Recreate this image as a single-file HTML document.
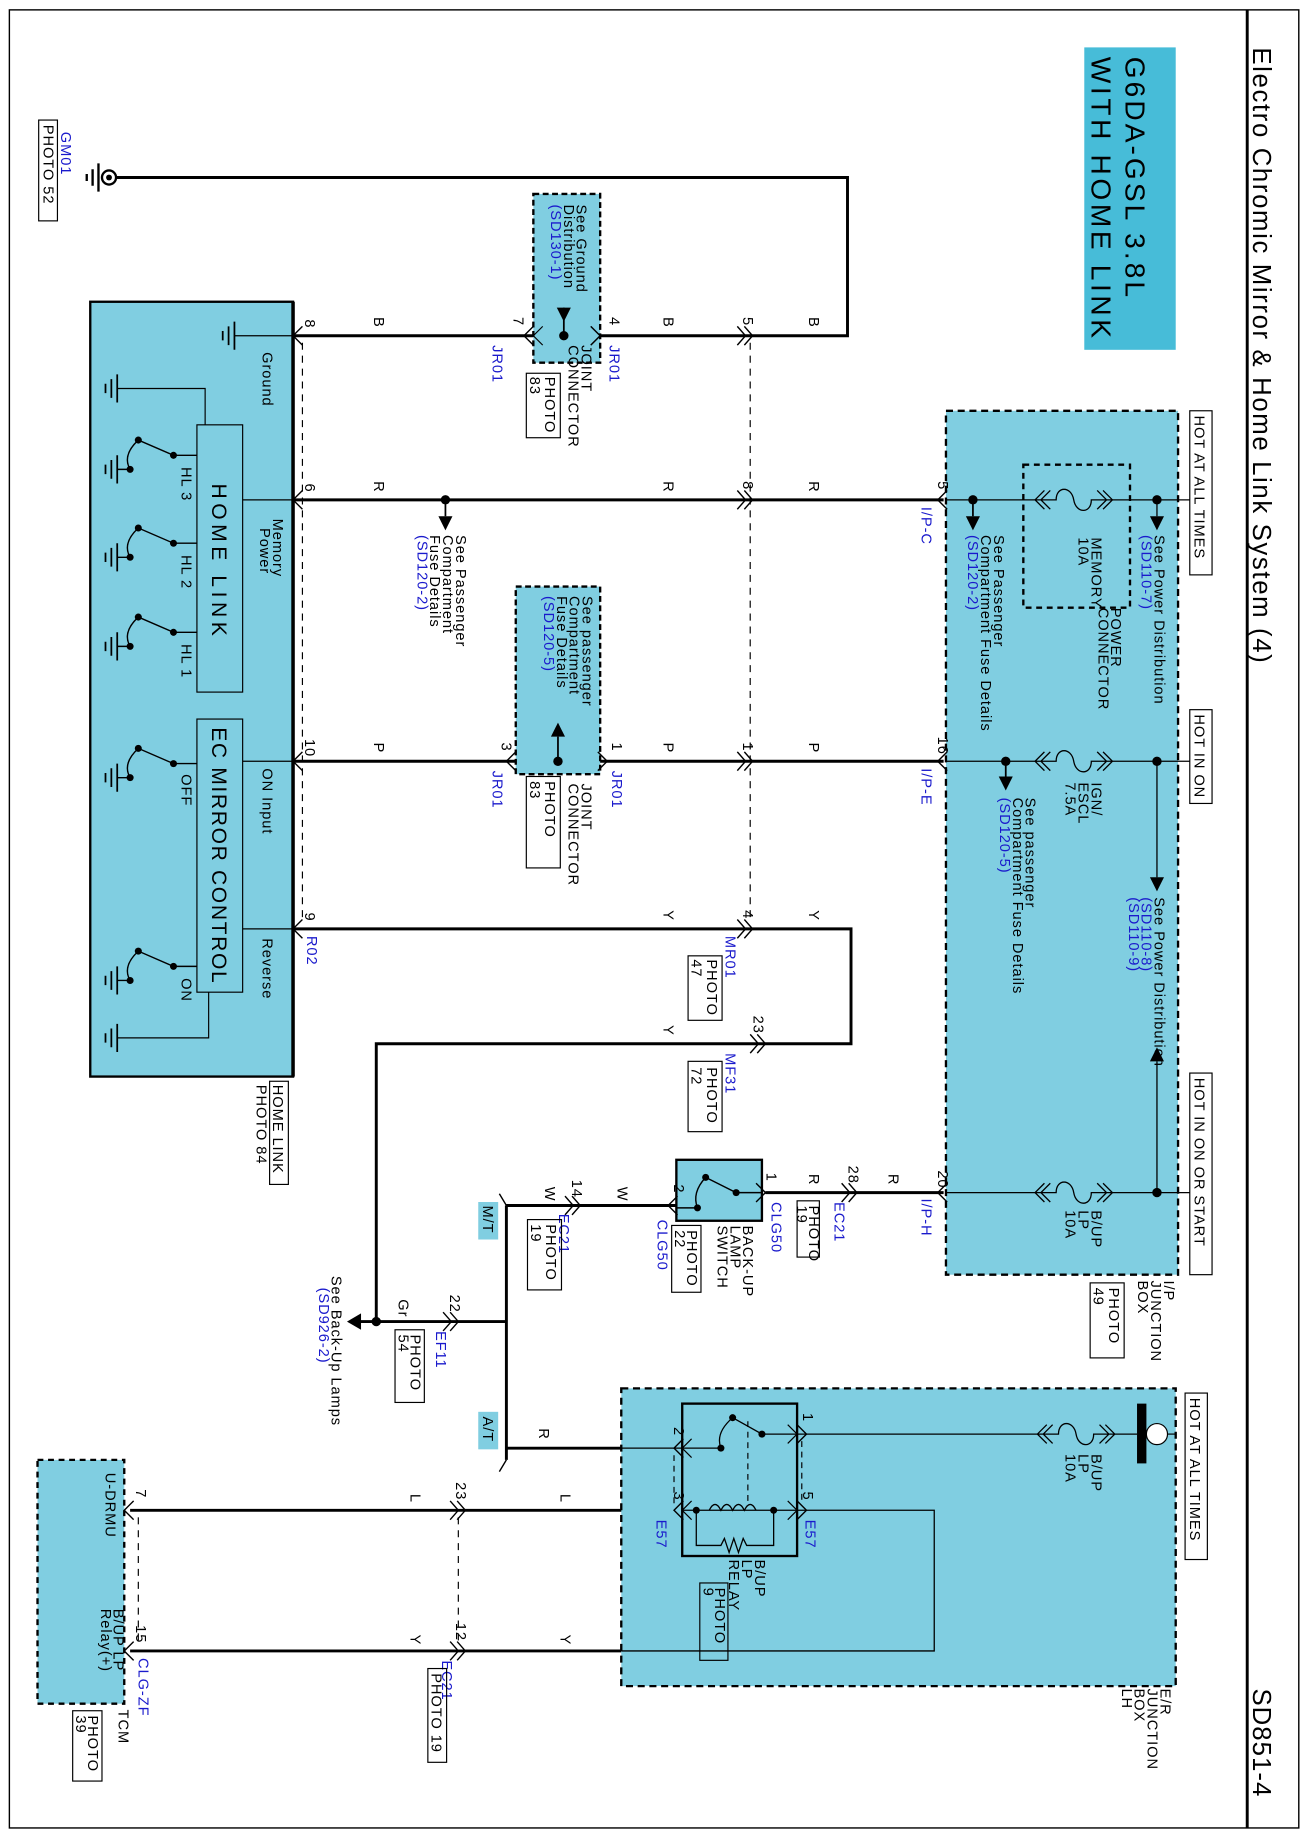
<!DOCTYPE html>
<html><head><meta charset="utf-8"><style>
html,body{margin:0;padding:0;background:#fff}
svg{display:block}
text{font-family:"Liberation Sans",sans-serif;fill:#000}
text[font-size="11"]{font-size:12.5px;letter-spacing:0.8px}
.b{fill:#1a1acc}
</style></head><body>
<svg width="1307" height="1839" viewBox="0 0 1115 1568" xmlns="http://www.w3.org/2000/svg">
<defs>
<path id="pin" d="M8,-8 L0,0 L8,8" fill="none" stroke="#000" stroke-width="1.2"/>
<path id="pinR" d="M-8,-8 L0,0 L-8,8" fill="none" stroke="#000" stroke-width="1.2"/>
<path id="con" d="M-7,-8 L0,0 L-7,8 M-1,-8 L6,0 L-1,8" fill="none" stroke="#000" stroke-width="1.2"/>
<path id="fuse" d="M-33,0 L-15,0 C-15,-12 -2,-12 0,0 C2,12 15,12 15,0 L33,0 M-25,-8 L-33,0 L-25,8 M-20,-8 L-28,0 L-20,8 M25,-8 L33,0 L25,8 M20,-8 L28,0 L20,8" fill="none" stroke="#000" stroke-width="1.1"/>
<path id="gnd" d="M0,-12 L0,12 M-5,-8 L-5,8 M-10,-4 L-10,4" fill="none" stroke="#000" stroke-width="1.5"/>
</defs>
<rect x="0" y="0" width="1115" height="1568" fill="#fff"/>
<rect x="8" y="8" width="1100" height="1551" fill="none" stroke="#000" stroke-width="1.2"/>
<line x1="1064" y1="8" x2="1064" y2="1559" stroke="#000" stroke-width="2.5"/>
<text font-size="22" transform="translate(1069,40) rotate(90)" textLength="525">Electro Chromic Mirror &amp; Home Link System (4)</text>
<text font-size="22" transform="translate(1069,1440) rotate(90)" textLength="92">SD851-4</text>

<rect x="925" y="40" width="78" height="258" fill="#47bcd8"/>
<text font-size="24" transform="translate(960,48) rotate(90)" textLength="205">G6DA-GSL 3.8L</text>
<text font-size="24" transform="translate(931,48) rotate(90)" textLength="240">WITH HOME LINK</text>

<circle cx="93" cy="151" r="6" fill="none" stroke="#000" stroke-width="2"/>
<circle cx="93" cy="151" r="2.5" fill="#000"/>
<path d="M84,139 L84,163 M79,144 L79,158 M74,148 L74,154" stroke="#000" stroke-width="2"/>
<polyline points="99,151 723,151 723,286 636,286" fill="none" stroke="#000" stroke-width="2.5"/>
<text class="b" font-size="11" transform="translate(52,112) rotate(90)">GM01</text>
<rect x="33" y="102" width="16" height="86" fill="none" stroke="#000"/>
<text font-size="11" transform="translate(37,106) rotate(90)">PHOTO 52</text>

<rect x="77" y="257" width="173" height="661" fill="#80cee1" stroke="#000" stroke-width="2"/>
<line x1="250" y1="257" x2="250" y2="918" stroke="#000" stroke-width="3"/>
<rect x="168" y="362" width="39" height="228" fill="#80cee1" stroke="#000" stroke-width="1"/>
<text font-size="18" transform="translate(181,412) rotate(90)" textLength="130">HOME  LINK</text>
<rect x="168" y="613" width="39" height="233" fill="#80cee1" stroke="#000" stroke-width="1"/>
<text font-size="18" transform="translate(181,620) rotate(90)" textLength="218">EC  MIRROR  CONTROL</text>
<line x1="200" y1="286" x2="250" y2="286" stroke="#000"/>
<use href="#gnd" x="200" y="286"/>
<text font-size="11" transform="translate(224,300) rotate(90)">Ground</text>
<line x1="207" y1="426" x2="250" y2="426" stroke="#000"/>
<text font-size="11" transform="translate(233,442) rotate(90)">Memory</text>
<text font-size="11" transform="translate(222,450) rotate(90)">Power</text>
<line x1="207" y1="649" x2="250" y2="649" stroke="#000"/>
<text font-size="11" transform="translate(224,655) rotate(90)">ON Input</text>
<line x1="207" y1="792" x2="250" y2="792" stroke="#000"/>
<text font-size="11" transform="translate(224,800) rotate(90)">Reverse</text>
<polyline points="100,331 175,331 175,362" fill="none" stroke="#000"/>
<use href="#gnd" x="100" y="331"/>
<polyline points="100,885 178,885 178,846" fill="none" stroke="#000"/>
<use href="#gnd" x="100" y="885"/>
<g stroke="#000" fill="none" stroke-width="1.2">
<path d="M168,388 L148,388 L118,375 M111,400 L100,400 M118,375 Q104,388 111,400" />
<path d="M168,463 L148,463 L118,450 M111,475 L100,475 M118,450 Q104,463 111,475"/>
<path d="M168,539 L148,539 L118,526 M111,551 L100,551 M118,526 Q104,539 111,551"/>
<path d="M168,651 L148,651 L118,638 M111,663 L100,663 M118,638 Q104,651 111,663"/>
<path d="M168,824 L148,824 L118,811 M111,836 L100,836 M118,811 Q104,824 111,836"/>
</g>
<g fill="#000">
<circle cx="148" cy="388" r="3"/><circle cx="118" cy="375" r="3"/><circle cx="111" cy="400" r="3"/>
<circle cx="148" cy="463" r="3"/><circle cx="118" cy="450" r="3"/><circle cx="111" cy="475" r="3"/>
<circle cx="148" cy="539" r="3"/><circle cx="118" cy="526" r="3"/><circle cx="111" cy="551" r="3"/>
<circle cx="148" cy="651" r="3"/><circle cx="118" cy="638" r="3"/><circle cx="111" cy="663" r="3"/>
<circle cx="148" cy="824" r="3"/><circle cx="118" cy="811" r="3"/><circle cx="111" cy="836" r="3"/>
</g>
<use href="#gnd" x="100" y="400"/><use href="#gnd" x="100" y="475"/><use href="#gnd" x="100" y="551"/>
<use href="#gnd" x="100" y="663"/><use href="#gnd" x="100" y="836"/>
<text font-size="11" transform="translate(155,398) rotate(90)">HL 3</text>
<text font-size="11" transform="translate(155,473) rotate(90)">HL 2</text>
<text font-size="11" transform="translate(155,549) rotate(90)">HL 1</text>
<text font-size="11" transform="translate(155,660) rotate(90)">OFF</text>
<text font-size="11" transform="translate(155,834) rotate(90)">ON</text>
<rect x="230" y="922" width="16" height="88" fill="none" stroke="#000"/>
<text font-size="11" transform="translate(233,925) rotate(90)">HOME LINK</text>
<text font-size="11" transform="translate(219,925) rotate(90)">PHOTO 84</text>

<g stroke="#000" stroke-width="2.5" fill="none">
<line x1="250" y1="286" x2="636" y2="286"/>
<line x1="250" y1="426" x2="805" y2="426"/>
<line x1="250" y1="649" x2="805" y2="649"/>
<polyline points="250,792 726,792 726,890 321,890 321,1127"/>
<line x1="321" y1="1127" x2="432" y2="1127"/>
<line x1="432" y1="1028" x2="432" y2="1245"/>
<line x1="432" y1="1028" x2="577" y2="1028"/>
<line x1="653" y1="1017" x2="805" y2="1017"/>
<line x1="432" y1="1235" x2="530" y2="1235"/>
<line x1="111" y1="1288" x2="582" y2="1288"/>
<line x1="111" y1="1408" x2="530" y2="1408"/>
</g>
<path d="M432,1028 L426,1018 M432,1245 L426,1255" stroke="#000" stroke-width="1.2"/>
<g stroke="#000" stroke-dasharray="6,5" stroke-width="1">
<line x1="258" y1="292" x2="258" y2="786"/>
<line x1="640" y1="292" x2="640" y2="786"/>
<line x1="118" y1="1294" x2="118" y2="1402"/>
<line x1="391" y1="1294" x2="391" y2="1402"/>
</g>
<use href="#pin" x="250" y="286"/><use href="#pin" x="250" y="426"/>
<use href="#pin" x="250" y="649"/><use href="#pin" x="250" y="792"/>
<text font-size="11" transform="translate(260,272) rotate(90)">8</text>
<text font-size="11" transform="translate(260,412) rotate(90)">6</text>
<text font-size="11" transform="translate(260,630) rotate(90)">10</text>
<text font-size="11" transform="translate(260,778) rotate(90)">9</text>
<text class="b" font-size="11" transform="translate(262,798) rotate(90)">R02</text>
<use href="#con" x="636" y="286"/><use href="#con" x="636" y="426"/>
<use href="#con" x="636" y="649"/><use href="#con" x="636" y="792"/>
<use href="#con" x="647" y="890"/>
<text font-size="11" transform="translate(634,270) rotate(90)">5</text>
<text font-size="11" transform="translate(634,410) rotate(90)">8</text>
<text font-size="11" transform="translate(634,633) rotate(90)">1</text>
<text font-size="11" transform="translate(634,776) rotate(90)">4</text>
<text font-size="11" transform="translate(643,866) rotate(90)">23</text>
<g font-size="11">
<text font-size="11" transform="translate(319,270) rotate(90)">B</text>
<text font-size="11" transform="translate(566,270) rotate(90)">B</text>
<text font-size="11" transform="translate(690,270) rotate(90)">B</text>
<text font-size="11" transform="translate(319,410) rotate(90)">R</text>
<text font-size="11" transform="translate(566,410) rotate(90)">R</text>
<text font-size="11" transform="translate(690,410) rotate(90)">R</text>
<text font-size="11" transform="translate(319,633) rotate(90)">P</text>
<text font-size="11" transform="translate(566,633) rotate(90)">P</text>
<text font-size="11" transform="translate(690,633) rotate(90)">P</text>
<text font-size="11" transform="translate(566,776) rotate(90)">Y</text>
<text font-size="11" transform="translate(690,776) rotate(90)">Y</text>
<text font-size="11" transform="translate(566,874) rotate(90)">Y</text>
<text font-size="11" transform="translate(690,1001) rotate(90)">R</text>
<text font-size="11" transform="translate(758,1001) rotate(90)">R</text>
<text font-size="11" transform="translate(527,1012) rotate(90)">W</text>
<text font-size="11" transform="translate(465,1012) rotate(90)">W</text>
<text font-size="11" transform="translate(340,1108) rotate(90)">Gr</text>
<text font-size="11" transform="translate(460,1218) rotate(90)">R</text>
<text font-size="11" transform="translate(350,1274) rotate(90)">L</text>
<text font-size="11" transform="translate(478,1274) rotate(90)">L</text>
<text font-size="11" transform="translate(350,1394) rotate(90)">Y</text>
<text font-size="11" transform="translate(478,1394) rotate(90)">Y</text>
<text font-size="11" transform="translate(777,1213) rotate(90)">R</text>
</g>
<text class="b" font-size="11" transform="translate(619,798) rotate(90)">MR01</text>
<rect x="587" y="815" width="29" height="55" fill="none" stroke="#000"/>
<text font-size="11" transform="translate(603,818) rotate(90)">PHOTO</text>
<text font-size="11" transform="translate(590,818) rotate(90)">47</text>
<text class="b" font-size="11" transform="translate(619,898) rotate(90)">MF31</text>
<rect x="587" y="905" width="29" height="60" fill="none" stroke="#000"/>
<text font-size="11" transform="translate(603,910) rotate(90)">PHOTO</text>
<text font-size="11" transform="translate(590,910) rotate(90)">72</text>

<circle cx="380" cy="426" r="4" fill="#000"/>
<path d="M380,426 L380,440" stroke="#000" stroke-width="1.5"/>
<polygon points="374,440 386,440 380,452" fill="#000"/>
<text font-size="11" transform="translate(389,456) rotate(90)">See Passenger</text>
<text font-size="11" transform="translate(378,456) rotate(90)">Compartment</text>
<text font-size="11" transform="translate(367,456) rotate(90)">Fuse Details</text>
<text class="b" font-size="11" transform="translate(356,456) rotate(90)">(SD120-2)</text>

<rect x="455" y="165" width="57" height="144" fill="#80cee1" stroke="#000" stroke-width="2" stroke-dasharray="5,3"/>
<text font-size="11" transform="translate(492,174) rotate(90)">See Ground</text>
<text font-size="11" transform="translate(481,174) rotate(90)">Distribution</text>
<text class="b" font-size="11" transform="translate(470,174) rotate(90)">(SD130-1)</text>
<line x1="481" y1="262" x2="481" y2="286" stroke="#000" stroke-width="1.5"/>
<polygon points="475,262 487,262 481,274" fill="#000"/>
<circle cx="481" cy="286" r="4" fill="#000"/>
<use href="#pin" x="447" y="286"/><use href="#pinR" x="512" y="286"/>
<path d="M455,286 L463,278 M455,286 L463,294 M512,286 L504,278 M512,286 L504,294" stroke="#000"/>
<text font-size="11" transform="translate(438,270) rotate(90)">7</text>
<text font-size="11" transform="translate(520,270) rotate(90)">4</text>
<text class="b" font-size="11" transform="translate(420,294) rotate(90)">JR01</text>
<text class="b" font-size="11" transform="translate(520,294) rotate(90)">JR01</text>
<text font-size="11" transform="translate(496,294) rotate(90)">JOINT</text>
<text font-size="11" transform="translate(485,294) rotate(90)">CONNECTOR</text>
<rect x="449" y="318" width="29" height="55" fill="#fff" stroke="#000"/>
<text font-size="11" transform="translate(465,321) rotate(90)">PHOTO</text>
<text font-size="11" transform="translate(452,321) rotate(90)">83</text>

<rect x="440" y="500" width="72" height="160" fill="#80cee1" stroke="#000" stroke-width="2" stroke-dasharray="5,3"/>
<text font-size="11" transform="translate(497,508) rotate(90)">See passenger</text>
<text font-size="11" transform="translate(486,508) rotate(90)">Compartment</text>
<text font-size="11" transform="translate(475,508) rotate(90)">Fuse Details</text>
<text class="b" font-size="11" transform="translate(464,508) rotate(90)">(SD120-5)</text>
<line x1="476" y1="649" x2="476" y2="628" stroke="#000" stroke-width="1.5"/>
<polygon points="470,628 482,628 476,616" fill="#000"/>
<circle cx="476" cy="649" r="4" fill="#000"/>
<use href="#pin" x="432" y="649"/><use href="#pinR" x="518" y="649"/>
<text font-size="11" transform="translate(428,633) rotate(90)">3</text>
<text font-size="11" transform="translate(522,633) rotate(90)">1</text>
<text class="b" font-size="11" transform="translate(420,657) rotate(90)">JR01</text>
<text class="b" font-size="11" transform="translate(522,657) rotate(90)">JR01</text>
<text font-size="11" transform="translate(496,668) rotate(90)">JOINT</text>
<text font-size="11" transform="translate(485,668) rotate(90)">CONNECTOR</text>
<rect x="449" y="662" width="29" height="78" fill="#fff" stroke="#000"/>
<text font-size="11" transform="translate(465,666) rotate(90)">PHOTO</text>
<text font-size="11" transform="translate(452,666) rotate(90)">83</text>

<rect x="807" y="350" width="198" height="737" fill="#80cee1" stroke="#000" stroke-width="2" stroke-dasharray="6,4"/>
<rect x="873" y="396" width="91" height="122" fill="none" stroke="#000" stroke-width="2" stroke-dasharray="5,4"/>
<g stroke="#000" stroke-width="1.1">
<line x1="807" y1="426" x2="1015" y2="426"/>
<line x1="807" y1="649" x2="1015" y2="649"/>
<line x1="807" y1="1017" x2="1015" y2="1017"/>
<line x1="987" y1="649" x2="987" y2="748"/>
<line x1="987" y1="1017" x2="987" y2="905"/>
<line x1="987" y1="426" x2="987" y2="440"/>
</g>
<rect x="883" y="418" width="66" height="16" fill="#80cee1"/>
<rect x="883" y="641" width="66" height="16" fill="#80cee1"/>
<rect x="883" y="1009" width="66" height="16" fill="#80cee1"/>
<use href="#fuse" x="916" y="426"/><use href="#fuse" x="916" y="649"/><use href="#fuse" x="916" y="1017"/>
<circle cx="987" cy="426" r="4" fill="#000"/><circle cx="987" cy="649" r="4" fill="#000"/><circle cx="987" cy="1017" r="4" fill="#000"/>
<polygon points="981,440 993,440 987,452" fill="#000"/>
<polygon points="981,748 993,748 987,760" fill="#000"/>
<polygon points="981,905 993,905 987,893" fill="#000"/>
<circle cx="830" cy="426" r="4" fill="#000"/>
<line x1="830" y1="426" x2="830" y2="440" stroke="#000" stroke-width="1.5"/>
<polygon points="824,440 836,440 830,452" fill="#000"/>
<circle cx="858" cy="649" r="4" fill="#000"/>
<line x1="858" y1="649" x2="858" y2="662" stroke="#000" stroke-width="1.5"/>
<polygon points="852,662 864,662 858,674" fill="#000"/>
<text font-size="11" transform="translate(985,456) rotate(90)">See Power Distribution</text>
<text class="b" font-size="11" transform="translate(974,456) rotate(90)">(SD110-7)</text>
<text font-size="11" transform="translate(931,458) rotate(90)">MEMORY</text>
<text font-size="11" transform="translate(920,458) rotate(90)">10A</text>
<text font-size="11" transform="translate(948,518) rotate(90)">POWER</text>
<text font-size="11" transform="translate(937,518) rotate(90)">CONNECTOR</text>
<text font-size="11" transform="translate(848,456) rotate(90)">See Passenger</text>
<text font-size="11" transform="translate(837,456) rotate(90)">Compartment Fuse Details</text>
<text class="b" font-size="11" transform="translate(826,456) rotate(90)">(SD120-2)</text>
<text font-size="11" transform="translate(931,667) rotate(90)">IGN/</text>
<text font-size="11" transform="translate(920,667) rotate(90)">ESCL</text>
<text font-size="11" transform="translate(909,667) rotate(90)">7.5A</text>
<text font-size="11" transform="translate(875,680) rotate(90)">See passenger</text>
<text font-size="11" transform="translate(864,680) rotate(90)">Compartment Fuse Details</text>
<text class="b" font-size="11" transform="translate(853,680) rotate(90)">(SD120-5)</text>
<text font-size="11" transform="translate(985,765) rotate(90)">See Power Distribution</text>
<text class="b" font-size="11" transform="translate(974,765) rotate(90)">(SD110-8)</text>
<text class="b" font-size="11" transform="translate(963,765) rotate(90)">(SD110-9)</text>
<text font-size="11" transform="translate(931,1032) rotate(90)">B/UP</text>
<text font-size="11" transform="translate(920,1032) rotate(90)">LP</text>
<text font-size="11" transform="translate(909,1032) rotate(90)">10A</text>
<rect x="1015" y="350" width="19" height="140" fill="#fff" stroke="#000"/>
<text font-size="11" transform="translate(1019,354) rotate(90)">HOT AT ALL TIMES</text>
<rect x="1015" y="605" width="19" height="80" fill="#fff" stroke="#000"/>
<text font-size="11" transform="translate(1019,609) rotate(90)">HOT IN ON</text>
<rect x="1015" y="915" width="19" height="172" fill="#fff" stroke="#000"/>
<text font-size="11" transform="translate(1019,919) rotate(90)">HOT IN ON OR START</text>
<use href="#pin" x="800" y="426"/><use href="#pin" x="800" y="649"/><use href="#pin" x="800" y="1017"/>
<text font-size="11" transform="translate(800,410) rotate(90)">5</text>
<text font-size="11" transform="translate(800,628) rotate(90)">16</text>
<text font-size="11" transform="translate(800,998) rotate(90)">20</text>
<text class="b" font-size="11" transform="translate(786,432) rotate(90)">I/P-C</text>
<text class="b" font-size="11" transform="translate(786,655) rotate(90)">I/P-E</text>
<text class="b" font-size="11" transform="translate(786,1022) rotate(90)">I/P-H</text>
<text font-size="11" transform="translate(993,1092) rotate(90)">I/P</text>
<text font-size="11" transform="translate(982,1092) rotate(90)">JUNCTION</text>
<text font-size="11" transform="translate(971,1092) rotate(90)">BOX</text>
<rect x="930" y="1094" width="29" height="64" fill="none" stroke="#000"/>
<text font-size="11" transform="translate(946,1098) rotate(90)">PHOTO</text>
<text font-size="11" transform="translate(933,1098) rotate(90)">49</text>

<use href="#con" x="725" y="1017"/>
<text font-size="11" transform="translate(724,994) rotate(90)">28</text>
<text class="b" font-size="11" transform="translate(712,1025) rotate(90)">EC21</text>
<rect x="680" y="1024" width="19" height="48" fill="none" stroke="#000"/>
<text font-size="11" transform="translate(690,1028) rotate(90)">PHOTO</text>
<text font-size="11" transform="translate(680,1028) rotate(90)">19</text>
<rect x="577" y="989" width="73" height="52" fill="#80cee1" stroke="#000" stroke-width="2"/>
<use href="#pinR" x="653" y="1017"/>
<g stroke="#000" fill="none" stroke-width="1.2">
<path d="M650,1017 L628,1017 L602,1004 M595,1030 L577,1030 M602,1004 Q590,1017 595,1030"/>
</g>
<circle cx="628" cy="1017" r="3" fill="#000"/><circle cx="602" cy="1004" r="3" fill="#000"/><circle cx="595" cy="1030" r="3" fill="#000"/>
<use href="#pin" x="570" y="1028"/>
<text font-size="11" transform="translate(654,1000) rotate(90)">1</text>
<text font-size="11" transform="translate(575,1010) rotate(90)">2</text>
<text class="b" font-size="11" transform="translate(658,1025) rotate(90)">CLG50</text>
<text class="b" font-size="11" transform="translate(561,1040) rotate(90)">CLG50</text>
<text font-size="11" transform="translate(634,1045) rotate(90)">BACK-UP</text>
<text font-size="11" transform="translate(623,1045) rotate(90)">LAMP</text>
<text font-size="11" transform="translate(612,1045) rotate(90)">SWITCH</text>
<rect x="573" y="1045" width="25" height="57" fill="#fff" stroke="#000"/>
<text font-size="11" transform="translate(586,1049) rotate(90)">PHOTO</text>
<text font-size="11" transform="translate(576,1049) rotate(90)">22</text>
<use href="#con" x="489" y="1028"/>
<text font-size="11" transform="translate(488,1006) rotate(90)">14</text>
<text class="b" font-size="11" transform="translate(477,1035) rotate(90)">EC21</text>
<rect x="450" y="1040" width="29" height="60" fill="none" stroke="#000"/>
<text font-size="11" transform="translate(466,1044) rotate(90)">PHOTO</text>
<text font-size="11" transform="translate(453,1044) rotate(90)">19</text>
<rect x="408" y="1025" width="17" height="32" fill="#80cee1"/>
<text font-size="11" transform="translate(412,1028) rotate(90)">M/T</text>
<rect x="408" y="1204" width="17" height="32" fill="#80cee1"/>
<text font-size="11" transform="translate(412,1208) rotate(90)">A/T</text>
<use href="#con" x="385" y="1127"/>
<text font-size="11" transform="translate(384,1104) rotate(90)">22</text>
<text class="b" font-size="11" transform="translate(372,1135) rotate(90)">EF11</text>
<rect x="337" y="1134" width="25" height="62" fill="none" stroke="#000"/>
<text font-size="11" transform="translate(350,1138) rotate(90)">PHOTO</text>
<text font-size="11" transform="translate(340,1138) rotate(90)">54</text>
<circle cx="321" cy="1127" r="4" fill="#000"/>
<line x1="321" y1="1127" x2="306" y2="1127" stroke="#000" stroke-width="2.5"/>
<polygon points="308,1120 308,1134 296,1127" fill="#000"/>
<text font-size="11" transform="translate(283,1088) rotate(90)">See Back-Up Lamps</text>
<text class="b" font-size="11" transform="translate(272,1098) rotate(90)">(SD926-2)</text>

<rect x="530" y="1184" width="473" height="254" fill="#80cee1" stroke="#000" stroke-width="2" stroke-dasharray="6,4"/>
<rect x="582" y="1197" width="98" height="130" fill="#80cee1" stroke="#000" stroke-width="2"/>
<rect x="1011" y="1188" width="19" height="142" fill="#fff" stroke="#000"/>
<text font-size="11" transform="translate(1015,1192) rotate(90)">HOT AT ALL TIMES</text>
<rect x="970" y="1197" width="8" height="51" fill="#000"/>
<circle cx="987" cy="1223" r="9" fill="#fff" stroke="#000"/>
<line x1="996" y1="1223" x2="1003" y2="1223" stroke="#000"/>
<g stroke="#000" stroke-width="1.1" fill="none">
<line x1="680" y1="1223" x2="970" y2="1223"/>
<polyline points="680,1288 797,1288 797,1408 530,1408"/>
<line x1="530" y1="1235" x2="582" y2="1235"/>
<path d="M680,1223 L650,1223 L625,1209 M615,1235 L582,1235 M625,1209 Q610,1222 615,1235"/>
<line x1="582" y1="1288" x2="680" y2="1288"/>
<path d="M594,1288 L594,1318 L615,1318 l3,-6 l4,12 l4,-12 l4,12 l4,-12 l3,6 L660,1318 L660,1288"/>
<path d="M605,1288 q5,-10 10,0 q5,-10 10,0 q5,-10 10,0 q5,-10 10,0"/>
</g>
<rect x="885" y="1215" width="66" height="16" fill="#80cee1"/>
<use href="#fuse" x="918" y="1223"/>
<line x1="638" y1="1212" x2="638" y2="1282" stroke="#000" stroke-dasharray="5,4"/>
<line x1="575" y1="1241" x2="575" y2="1282" stroke="#000" stroke-dasharray="5,4"/>
<line x1="684" y1="1229" x2="684" y2="1282" stroke="#000" stroke-dasharray="5,4"/>
<circle cx="650" cy="1223" r="3" fill="#000"/><circle cx="625" cy="1209" r="3" fill="#000"/><circle cx="615" cy="1235" r="3" fill="#000"/>
<circle cx="594" cy="1288" r="3" fill="#000"/><circle cx="660" cy="1288" r="3" fill="#000"/>
<use href="#pinR" x="688" y="1223"/><use href="#pinR" x="688" y="1288"/>
<use href="#pin" x="575" y="1235"/><use href="#pin" x="575" y="1288"/>
<path d="M582,1235 l8,-8 M582,1235 l8,8 M582,1288 l8,-8 M582,1288 l8,8 M680,1223 l-8,-8 M680,1223 l-8,8 M680,1288 l-8,-8 M680,1288 l-8,8" stroke="#000"/>
<text font-size="11" transform="translate(685,1205) rotate(90)">1</text>
<text font-size="11" transform="translate(575,1217) rotate(90)">2</text>
<text font-size="11" transform="translate(575,1272) rotate(90)">3</text>
<text font-size="11" transform="translate(685,1272) rotate(90)">5</text>
<text class="b" font-size="11" transform="translate(560,1296) rotate(90)">E57</text>
<text class="b" font-size="11" transform="translate(687,1296) rotate(90)">E57</text>
<text font-size="11" transform="translate(931,1240) rotate(90)">B/UP</text>
<text font-size="11" transform="translate(920,1240) rotate(90)">LP</text>
<text font-size="11" transform="translate(909,1240) rotate(90)">10A</text>
<text font-size="11" transform="translate(644,1330) rotate(90)">B/UP</text>
<text font-size="11" transform="translate(633,1330) rotate(90)">LP</text>
<text font-size="11" transform="translate(622,1330) rotate(90)">RELAY</text>
<rect x="597" y="1350" width="24" height="66" fill="none" stroke="#000"/>
<text font-size="11" transform="translate(610,1354) rotate(90)">PHOTO</text>
<text font-size="11" transform="translate(600,1354) rotate(90)">9</text>
<text font-size="11" transform="translate(990,1440) rotate(90)">E/R</text>
<text font-size="11" transform="translate(979,1440) rotate(90)">JUNCTION</text>
<text font-size="11" transform="translate(968,1440) rotate(90)">BOX</text>
<text font-size="11" transform="translate(957,1440) rotate(90)">LH</text>

<use href="#con" x="391" y="1288"/><use href="#con" x="391" y="1408"/>
<text font-size="11" transform="translate(389,1264) rotate(90)">23</text>
<text font-size="11" transform="translate(389,1384) rotate(90)">12</text>
<text class="b" font-size="11" transform="translate(377,1416) rotate(90)">EC21</text>
<rect x="365" y="1423" width="16" height="80" fill="none" stroke="#000"/>
<text font-size="11" transform="translate(368,1427) rotate(90)">PHOTO 19</text>

<rect x="32" y="1245" width="74" height="208" fill="#80cee1" stroke="#000" stroke-width="2" stroke-dasharray="5,4"/>
<use href="#pin" x="106" y="1288"/><use href="#pin" x="106" y="1408"/>
<text font-size="11" transform="translate(116,1270) rotate(90)">7</text>
<text font-size="11" transform="translate(116,1386) rotate(90)">15</text>
<text class="b" font-size="11" transform="translate(118,1414) rotate(90)">CLG-ZF</text>
<text font-size="11" transform="translate(90,1256) rotate(90)">U-DRMU</text>
<text font-size="11" transform="translate(97,1372) rotate(90)">B/UP LP</text>
<text font-size="11" transform="translate(86,1372) rotate(90)">Relay(+)</text>
<text font-size="11" transform="translate(101,1458) rotate(90)">TCM</text>
<rect x="62" y="1459" width="25" height="60" fill="none" stroke="#000"/>
<text font-size="11" transform="translate(75,1463) rotate(90)">PHOTO</text>
<text font-size="11" transform="translate(65,1463) rotate(90)">39</text>
</svg>
</body></html>
